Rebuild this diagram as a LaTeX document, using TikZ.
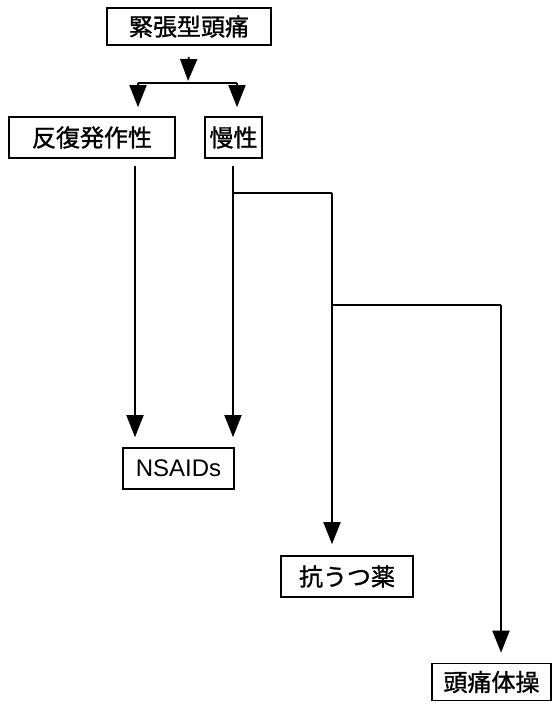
\documentclass[tikz,border=0pt]{standalone}
\usepackage{fontspec}
\setmainfont{Noto Sans CJK JP}[FakeBold=1.2,AutoFakeBold=1.2]
\newfontfamily\latinsans{Liberation Sans}
\usetikzlibrary{arrows.meta,calc}
\begin{document}
\begin{tikzpicture}[x=1pt,y=-1pt,
  box/.style={draw,line width=1.6pt,rectangle,inner sep=0pt,font=\fontsize{24}{24}\selectfont\bfseries},
  conn/.style={line width=1.8pt},
  arr/.style={conn,-{Triangle[width=17pt,length=22pt]}}]
\useasboundingbox (0,0) rectangle (559,704);
\node[box,minimum width=164pt,minimum height=37pt] (top) at (189,26.5) {緊張型頭痛};
\node[box,minimum width=166pt,minimum height=41pt] (rep) at (92,137.5) {反復発作性};
\node[box,minimum width=57pt,minimum height=41pt] (chr) at (233.5,137.5) {慢性};
\node[box,minimum width=111pt,minimum height=41pt] (nsaid) at (178.5,468.5) {\latinsans\mdseries NSAIDs};
\node[box,minimum width=132pt,minimum height=41pt] (anti) at (347,576.5) {抗うつ薬};
\node[box,minimum width=119pt,minimum height=37pt] (exer) at (491.5,682) {頭痛体操};
% junction coordinates
\coordinate (j) at (188,83);
\coordinate (jl) at (138,83);
\coordinate (jr) at (237,83);
\coordinate (xl) at (135,0);
\coordinate (xr) at (233,0);
\coordinate (b1) at (233,193);
\coordinate (b1e) at (332,193);
\coordinate (b2) at (332,305);
\coordinate (b2e) at (501,305);
% connectors
\draw[arr,shorten <=11pt,shorten >=2pt] (top.south) -- (j);
\draw[conn] (jl) -- (jr);
\draw[arr,shorten >=9pt] (jl) -- (jl |- rep.north);
\draw[arr,shorten >=9pt] (jr) -- (jr |- chr.north);
\draw[arr,shorten <=7pt,shorten >=10pt] (xl |- rep.south) -- (xl |- nsaid.north);
\draw[arr,shorten <=7pt,shorten >=10pt] (xr |- chr.south) -- (xr |- nsaid.north);
\draw[conn] (b1) -- (b1e);
\draw[arr,shorten >=11pt] (b1e) -- (b1e |- anti.north);
\draw[conn] (b2) -- (b2e);
\draw[arr,shorten >=10pt] (b2e) -- (b2e |- exer.north);
\end{tikzpicture}
\end{document}
